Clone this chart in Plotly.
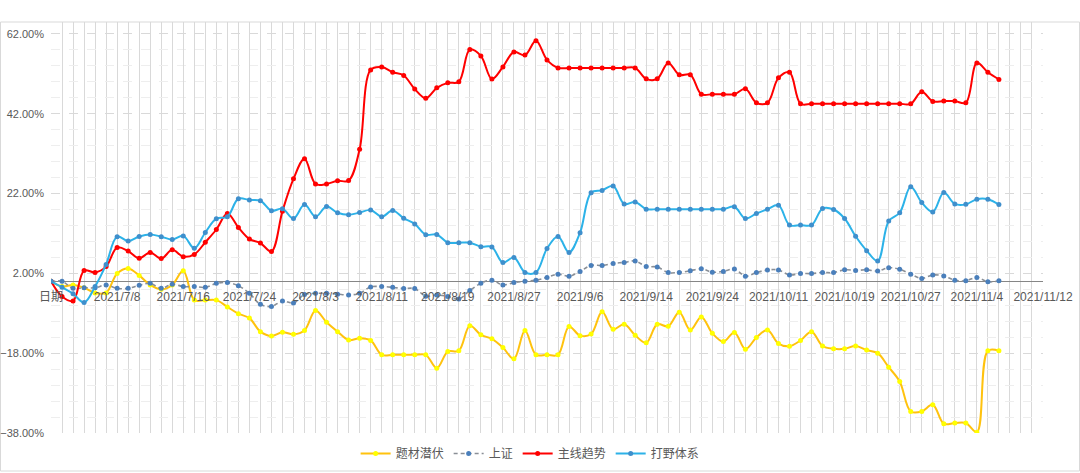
import plotly.graph_objects as go

tick_labels = ["日期", "2021/7/8", "2021/7/16", "2021/7/24", "2021/8/3", "2021/8/11",
               "2021/8/19", "2021/8/27", "2021/9/6", "2021/9/14", "2021/9/24",
               "2021/10/11", "2021/10/19", "2021/10/27", "2021/11/4", "2021/11/12"]

# values in %, one per trading day (category index 0..86)
ticai = [0, -1.3, -0.9, -1.6, -2.9, -2.9, 2.0, 3.25, 1.5, -0.9,
         -2.0, -0.9, 2.65, -4.7, -4.7, -4.7, -6.4, -8.1, -9.2, -12.6,
         -13.7, -12.75, -13.25, -12.3, -7.3, -10.25, -12.6, -14.7, -14.25, -14.8,
         -18.4, -18.4, -18.4, -18.4, -18.4, -21.75, -17.6, -17.4, -11.1, -13.4,
         -14.4, -16.6, -19.4, -12.3, -18.4, -18.4, -18.4, -11.3, -13.6, -13.2,
         -7.6, -12.0, -10.75, -13.5, -15.4, -10.75, -11.25, -7.75, -12.2, -8.9,
         -13.0, -15.1, -12.8, -17.0, -14.05, -12.2, -15.6, -16.25, -14.8, -12.6,
         -16.2, -16.9, -16.9, -16.2, -17.2, -18.0, -21.5, -25.1, -32.6, -32.6,
         -30.9, -35.7, -35.5, -35.5, -37.8, -17.4, -17.4]

shangzheng = [0, 0, -1.75, -1.6, -1.6, -0.9, -1.75, -1.75, -1.0, -0.5,
              -1.75, -0.7, -1.3, -1.3, -1.5, -0.5, -0.3, -1.1, -3.0, -5.75,
              -6.3, -4.9, -5.4, -3.3, -3.0, -3.0, -3.2, -3.4, -3.0, -1.4,
              -1.3, -1.5, -1.8, -1.8, -3.7, -3.4, -3.8, -4.4, -2.3, -0.5,
              0.3, -0.9, -0.3, 0, 0.3, 1.0, 1.8, 1.3, 2.5, 4.0,
              4.0, 4.5, 4.75, 5.1, 3.75, 3.6, 2.2, 2.25, 2.65, 3.15,
              2.3, 2.5, 3.1, 1.3, 2.2, 2.85, 2.85, 1.6, 2.0, 1.95,
              2.25, 2.2, 2.9, 2.75, 2.9, 2.6, 3.4, 3.05, 1.8, 0.75,
              1.6, 1.35, 0.3, 0.15, 1.0, -0.1, 0.15]

zhuxian = [0, -3.8, -4.9, 2.7, 2.25, 3.7, 8.5, 7.6, 5.8, 7.25,
           5.7, 7.9, 6.2, 6.75, 9.8, 13.0, 17.0, 13.5, 10.6, 9.6,
           7.5, 17.6, 25.7, 30.75, 24.4, 24.4, 25.2, 25.25, 33.1, 53.0,
           53.7, 52.4, 51.6, 48.2, 45.9, 48.5, 49.75, 50.0, 58.1, 56.5,
           50.7, 53.75, 57.5, 56.7, 60.3, 55.5, 53.5, 53.5, 53.5, 53.5,
           53.5, 53.5, 53.5, 53.5, 50.75, 50.75, 54.75, 51.75, 51.8, 46.9,
           46.9, 46.9, 46.9, 48.25, 44.75, 44.75, 51.0, 52.4, 44.5, 44.5,
           44.5, 44.5, 44.5, 44.5, 44.5, 44.5, 44.5, 44.5, 44.5, 47.5,
           45.1, 45.2, 45.2, 44.75, 54.75, 52.4, 50.6]

daye = [0, -1.5, -3.1, -5.3, -1.3, 4.25, 11.2, 10.1, 11.25, 11.75,
        11.2, 10.5, 11.4, 8.3, 12.25, 15.7, 16.2, 20.7, 20.4, 20.2,
        17.7, 18.2, 15.75, 19.25, 16.2, 18.75, 17.2, 16.7, 17.25, 17.9,
        16.2, 17.75, 15.8, 14.4, 11.7, 11.75, 9.7, 9.7, 9.7, 8.7,
        8.6, 4.7, 6.0, 2.25, 2.25, 8.25, 11.25, 7.25, 12.2, 22.2,
        22.8, 23.9, 19.4, 19.9, 18.1, 18.1, 18.1, 18.1, 18.1, 18.1,
        18.1, 18.1, 18.7, 15.75, 17.0, 18.1, 19.1, 14.1, 14.1, 14.1,
        18.25, 18.0, 15.75, 11.3, 7.7, 5.1, 15.1, 17.2, 23.7, 19.75,
        17.4, 22.25, 19.4, 19.3, 20.6, 20.6, 19.25]

x = list(range(len(zhuxian)))
n_cat = 91

fig = go.Figure()

def add_series(name, y, line_color, marker_color, dash="solid", width=2):
    fig.add_trace(go.Scatter(
        x=x, y=y, name=name, mode="lines+markers",
        line=dict(color=line_color, width=width, shape="spline", smoothing=1, dash=dash),
        marker=dict(color=marker_color, size=5),
    ))

add_series("题材潜伏", ticai, "#FFC20E", "#FFFF00")
add_series("上证", shangzheng, "#8a8f96", "#4a7fbb", dash="4px,3px", width=1.6)
add_series("主线趋势", zhuxian, "#FF0000", "#FF0000")
add_series("打野体系", daye, "#2CB2E8", "#3f8fcc")

y_min, y_max = -38, 65
zero_pos = (0 - y_min) / (y_max - y_min)

fig.update_layout(
    width=1080, height=473,
    margin=dict(l=51, r=37, t=22, b=40, autoexpand=False),
    paper_bgcolor="white", plot_bgcolor="white",
    font=dict(family="Liberation Sans, Noto Sans CJK SC, sans-serif", size=12, color="#595959"),
    showlegend=True,
    legend=dict(orientation="h", x=0.483, xanchor="center", y=-0.05, yanchor="middle",
                font=dict(size=12, color="#595959"), itemwidth=30, tracegroupgap=0),
    xaxis=dict(
        range=[0, n_cat - 1],
        tickmode="array", tickvals=list(range(0, n_cat, 6)), ticktext=tick_labels,
        tickangle=0,
        showgrid=True, gridcolor="#d9d9d9", gridwidth=1,
        minor=dict(tickmode="linear", tick0=0, dtick=1, showgrid=True, gridcolor="#d9d9d9"),
        anchor="free", position=zero_pos,
        showline=False, zeroline=False, ticks="", ticklabelstandoff=7,
        tickfont=dict(size=12, color="#595959"),
        automargin=False,
    ),
    yaxis=dict(
        range=[y_min, y_max],
        tickmode="linear", tick0=-38, dtick=20,
        tickformat=".2f", ticksuffix="%",
        showgrid=True, gridcolor="#d9d9d9", griddash="dash", gridwidth=1,
        minor=dict(tickmode="linear", tick0=-38, dtick=4, showgrid=True, gridcolor="#eeeeee"),
        zeroline=True, zerolinecolor="#868686", zerolinewidth=1.2,
        showline=False, ticks="", ticklabelstandoff=6,
        tickfont=dict(size=11, color="#595959"),
        automargin=False,
    ),
)

# outer chart border
fig.add_shape(type="rect", xref="paper", yref="paper",
              x0=-50.5 / 992, x1=1028.5 / 992, y0=-38 / 411, y1=1.0,
              line=dict(color="#d9d9d9", width=1), layer="below")

fig.write_html("out.html", config={"displayModeBar": False},
               post_script="document.body.style.margin='0';")
